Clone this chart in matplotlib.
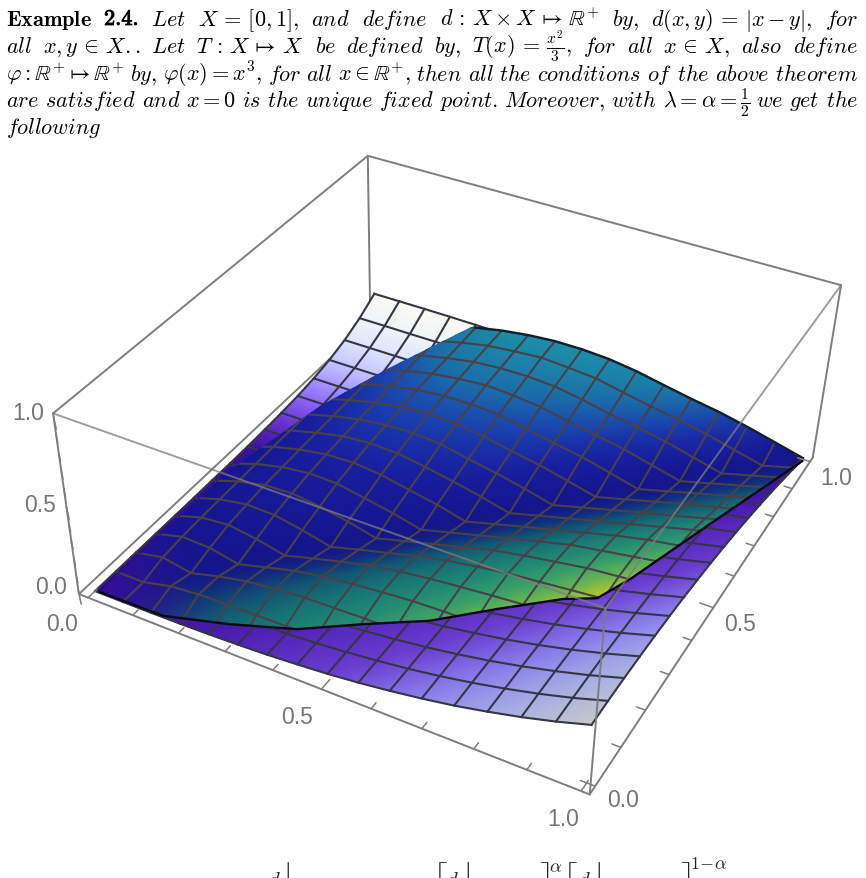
#!/usr/bin/env python3
import numpy as np
import matplotlib
matplotlib.use('Agg')
import matplotlib.pyplot as plt
from matplotlib.colors import to_rgb
from matplotlib.patheffects import withStroke
from matplotlib.path import Path

plt.rcParams['mathtext.fontset'] = 'cm'

# heights in thousandths, one row per y mesh line
upper_rows = [
    [0, 0, 0, 0, 0, 0, 0, 0, 0, 0, 0, 0, 0, 0, 0, 0, 0],
    [0, 0, 39, 55, 60, 62, 64, 65, 67, 68, 68, 68, 68, 68, 68, 68, 68],
    [0, 32, 1, 44, 78, 97, 111, 115, 120, 122, 124, 125, 127, 129, 131, 132, 134],
    [0, 43, 37, 2, 45, 88, 117, 137, 153, 166, 171, 175, 180, 182, 184, 185, 187],
    [0, 48, 64, 39, 2, 46, 89, 129, 156, 178, 194, 209, 222, 226, 231, 235, 240],
    [0, 50, 77, 73, 42, 2, 47, 89, 133, 168, 195, 219, 234, 250, 265, 277, 282],
    [0, 52, 87, 95, 75, 44, 3, 47, 90, 133, 177, 207, 234, 260, 275, 290, 306],
    [0, 54, 91, 111, 106, 76, 45, 4, 48, 91, 134, 177, 219, 246, 273, 300, 316],
    [0, 57, 95, 121, 127, 111, 78, 46, 4, 48, 92, 134, 178, 221, 258, 285, 312],
    [0, 57, 97, 130, 144, 138, 112, 81, 46, 5, 49, 92, 135, 178, 222, 265, 297],
    [0, 57, 100, 134, 154, 159, 147, 113, 83, 47, 5, 49, 93, 136, 178, 222, 266],
    [0, 57, 102, 138, 165, 177, 170, 148, 115, 86, 47, 6, 50, 94, 137, 179, 222],
    [0, 57, 104, 143, 174, 188, 191, 181, 149, 117, 89, 48, 6, 50, 95, 137, 180],
    [0, 57, 106, 145, 178, 198, 211, 202, 184, 150, 120, 90, 48, 7, 51, 95, 138],
    [0, 57, 109, 147, 182, 209, 221, 223, 213, 185, 151, 122, 91, 49, 7, 51, 95],
    [0, 57, 111, 149, 186, 217, 232, 244, 233, 220, 186, 154, 125, 91, 49, 8, 52],
    [0, 57, 113, 152, 190, 221, 242, 254, 254, 244, 221, 188, 156, 128, 92, 50, 8],
]
lower_rows = [
    [0, 0, 1, 3, 7, 13, 21, 33, 47, 66, 89, 116, 147, 185, 227, 275, 330],
    [0, 0, 1, 3, 7, 13, 21, 32, 47, 66, 88, 115, 147, 184, 226, 274, 329],
    [0, 0, 0, 3, 7, 13, 21, 32, 47, 65, 87, 114, 145, 182, 224, 271, 325],
    [0, 0, 0, 0, 7, 12, 20, 31, 46, 64, 85, 112, 142, 178, 219, 266, 318],
    [0, 0, 0, 0, 0, 12, 20, 31, 44, 62, 83, 108, 138, 173, 213, 258, 309],
    [0, 0, 0, 0, 0, 0, 19, 29, 43, 59, 80, 104, 133, 166, 205, 249, 298],
    [1, 1, 1, 1, 1, 1, 1, 28, 41, 57, 76, 99, 127, 159, 195, 237, 284],
    [1, 1, 1, 1, 1, 1, 1, 1, 38, 53, 72, 93, 119, 149, 184, 223, 267],
    [3, 3, 3, 3, 3, 3, 3, 3, 3, 49, 66, 87, 111, 138, 170, 207, 248],
    [7, 7, 7, 7, 7, 6, 6, 6, 6, 5, 61, 79, 101, 126, 155, 188, 226],
    [13, 13, 12, 12, 12, 12, 12, 11, 11, 10, 9, 70, 90, 112, 138, 168, 201],
    [22, 22, 22, 22, 22, 21, 21, 20, 19, 18, 17, 15, 78, 97, 120, 145, 174],
    [37, 37, 37, 37, 37, 36, 35, 34, 33, 31, 28, 25, 22, 81, 99, 121, 144],
    [60, 60, 60, 60, 59, 59, 57, 55, 53, 50, 46, 41, 35, 28, 77, 94, 112],
    [94, 94, 94, 94, 93, 91, 89, 86, 82, 77, 71, 64, 54, 44, 31, 65, 77],
    [143, 143, 142, 142, 140, 138, 135, 131, 125, 117, 108, 96, 82, 66, 47, 25, 40],
    [210, 210, 210, 209, 207, 204, 199, 192, 184, 173, 159, 142, 121, 97, 69, 37, 0],
]

# where the two surfaces cross: low side from the origin, then the far side
crease_low = [[.029, .022, 0], [.165, .022, .005], [.281, .057, .012], [.393, .097, .025],
              [.492, .153, .05], [.595, .204, .08], [.692, .266, .13], [.793, .315, .2],
              [.85, .328, .24], [.872, .417, .2], [.92, .681, .09], [.986, .979, 0]]
crease_far = [[.265, 1.011, .19], [.243, .983, .17], [.192, .905, .12], [.143, .828, .07],
              [.077, .676, .02], [.03, .417, 0]]

tick_labels = ['0.0', '0.5', '1.0']
tick_values = [0, .5, 1]

# camera: unit box corners as they land on the page
box_xyz = np.array([[0, 0, 0], [1, 0, 0], [1, 1, 0], [0, 1, 0],
                    [0, 0, 1], [1, 0, 1], [1, 1, 1], [0, 1, 1]], float)
box_px = np.array([[80, 598], [592, 797], [808, 463], [372, 314],
                   [52, 415], [603, 603], [846, 285], [366, 162]], float)

# plot range sits a little inside the box
PAD0, PAD1 = .02, .985


def fit_camera(world, page):
    rows = []
    for (x, y, z), (u, v) in zip(world, page):
        rows.append([x, y, z, 1, 0, 0, 0, 0, -u*x, -u*y, -u*z, -u])
        rows.append([0, 0, 0, 0, x, y, z, 1, -v*x, -v*y, -v*z, -v])
    return np.linalg.svd(np.array(rows))[2][-1].reshape(3, 4)


cam = fit_camera(box_xyz, box_px)


def project(x, y, z):
    x, y, z = np.asarray(x, float), np.asarray(y, float), np.asarray(z, float)
    w = cam[2, 0]*x + cam[2, 1]*y + cam[2, 2]*z + cam[2, 3]
    u = (cam[0, 0]*x + cam[0, 1]*y + cam[0, 2]*z + cam[0, 3]) / w
    v = (cam[1, 0]*x + cam[1, 1]*y + cam[1, 2]*z + cam[1, 3]) / w
    return u, v


z_upper = np.array(upper_rows) / 1000
z_lower = np.array(lower_rows) / 1000
grid = np.linspace(0, 1, z_upper.shape[0])
X, Y = np.meshgrid(grid, grid)
BX, BY = PAD0 + (PAD1-PAD0)*X, PAD0 + (PAD1-PAD0)*Y
crease = np.array(crease_low)
crease_top = np.array(crease_far)


def ramp(s, stops, colors):
    rgb = np.array([to_rgb(c) for c in colors])
    return np.stack([np.interp(s, stops, rgb[:, i]) for i in range(3)], axis=-1)


def upper_colors():
    d = X - Y
    below = ramp(d, [0, .1, .2, .3, .42, .5, .56],
                 ['#14148c', '#12207f', '#105a70', '#187a78', '#2a9a70', '#70b850', '#c8d020'])
    s = (Y-X)*X**.8
    above = ramp(s, [0, .08, .14, .2, .28],
                 ['#14148c', '#181ea0', '#1a40b0', '#1a70a8', '#1c90a8'])
    out = np.where((d > 0)[..., None], below, above)
    # the low corner fades to violet
    fade = np.clip(1-(X+Y)/.25, 0, 1)[..., None]
    return out*(1-fade) + np.array(to_rgb('#3a109a'))*fade


def lower_colors():
    d = X - Y
    right = ramp(d, [0, .25, .5, .7, .85, 1],
                 ['#2a0a90', '#4a1cb0', '#6a3cd0', '#8f88ee', '#a8b4e2', '#c8c8c8'])
    left = ramp(Y, [0, .5, .6, .7, .8, .9, 1],
                ['#2a0a90', '#3a10a0', '#6a30d0', '#9070ff', '#c0c0ff', '#e6f2ff', '#fbfbf2'])
    return np.where((d > 0)[..., None], right, left)


def draw_mesh(ax, z, color, lw, clip=None, zorder=3):
    u, v = project(BX, BY, z)
    lines = []
    for i in range(len(grid)):
        lines += ax.plot(u[i], v[i], color=color, lw=lw, zorder=zorder)
        lines += ax.plot(u[:, i], v[:, i], color=color, lw=lw, zorder=zorder)
    if clip is not None:
        for line in lines:
            line.set_clip_path(clip, ax.transData)


def edge(ax, a, b, **kw):
    u, v = project(*zip(a, b))
    ax.plot(u, v, **{'color': '#7d7d7d', 'lw': 1.4, 'solid_capstyle': 'round', **kw})


def ticks(ax, start, stop, toward):
    start, stop, toward = map(np.array, (start, stop, toward))
    for k in range(11):
        p = start + (stop-start)*(PAD0 + (PAD1-PAD0)*k/10)
        size = .026 if k % 5 == 0 else .016
        edge(ax, p, p+toward*size, zorder=6, lw=1.1)


fig = plt.figure(figsize=(8.66, 8.79), dpi=100)
ax = fig.add_axes([0, 0, 1, 1])
ax.set_xlim(0, 866)
ax.set_ylim(879, 0)
ax.axis('off')

# box edges behind the surfaces
edge(ax, (0, 0, 1), (0, 1, 1), zorder=1)
edge(ax, (0, 1, 1), (1, 1, 1), zorder=1)
edge(ax, (0, 1, 1), (0, 1, 0), zorder=1)
edge(ax, (0, 0, 0), (0, 1, 0), zorder=1)

u, v = project(BX, BY, z_lower)
ax.pcolormesh(u, v, lower_colors(), shading='gouraud', zorder=2)
draw_mesh(ax, z_lower, '#353545', 1.5)

# upper surface shows only inside its crease with the lower one
u, v = project(BX, BY, z_upper)
cu, cv = project(*crease.T)
tu, tv = project(*crease_top.T)
first = np.searchsorted(grid, .25)
outline = np.vstack([np.c_[cu, cv], np.c_[u[-1, first:][::-1], v[-1, first:][::-1]],
                     np.c_[tu, tv], [[cu[0], cv[0]]]])
clip = Path(outline)
mesh = ax.pcolormesh(u, v, upper_colors(), shading='gouraud', zorder=4)
mesh.set_clip_path(clip, ax.transData)
draw_mesh(ax, z_upper, '#4a4048', 1.5, clip=clip, zorder=5)
ax.plot(cu, cv, color='#0a0a14', lw=1.7, zorder=5)
ax.plot(u[-1, first:], v[-1, first:], color='#10202c', lw=1.7, zorder=5)

# box edges in front
edge(ax, (0, 0, 1), (1, 0, 1), zorder=6, alpha=.75)
edge(ax, (1, 0, 1), (1, 1, 1), zorder=6, alpha=.75)
edge(ax, (1, 0, 1), (1, 0, 0), zorder=6)
edge(ax, (1, 1, 1), (1, 1, 0), zorder=6)
edge(ax, (0, 0, 0), (1, 0, 0), zorder=6)
edge(ax, (1, 0, 0), (1, 1, 0), zorder=6)
edge(ax, (0, 0, 0), (0, 0, 1), zorder=6)
ticks(ax, (0, 0, 0), (1, 0, 0), (0, 1, 0))
ticks(ax, (1, 0, 0), (1, 1, 0), (-1, 0, 0))
ticks(ax, (0, 0, 0), (0, 0, 1), (1, -1, 0))

label_style = dict(family='Liberation Sans', fontsize=16.5, color='#757575',
                   ha='center', va='center')
for lab, t, off in zip(tick_labels, tick_values, [(-17, 29), (-23, 28), (-27, 24)]):
    pu, pv = project(t, 0, 0)
    ax.text(pu+off[0], pv+off[1], lab, **label_style)
for lab, t, off in zip(tick_labels, tick_values, [(33, 5), (27, 15), (23, 20)]):
    pu, pv = project(1, t, 0)
    ax.text(pu+off[0], pv+off[1], lab, **label_style)
for lab, t, off in zip(tick_labels, tick_values, [(-28, -8), (-26, -3), (-25, -1)]):
    pu, pv = project(0, 0, t)
    ax.text(pu+off[0], pv+off[1], lab, **label_style)

# justified paragraph, one fragment per word
text_lines = [
    [r'$\mathbf{Example}$', r'$\mathbf{2.4.}$', r'$\mathit{Let}$', r'$X\,=\,[0,1],$', r'$\mathit{and}$',
     r'$\mathit{define}$', r'$d\,:\,X\times X\,\mapsto\,\mathbb{R}^{+}$', r'$\mathit{by},$',
     r'$d(x,y)\,=\,|x-y|,$', r'$\mathit{for}$'],
    [r'$\mathit{all}$', r'$x,y\,\in\,X..$', r'$\mathit{Let}$', r'$T\,:\,X\,\mapsto\,X$',
     r'$\mathit{be}$', r'$\mathit{defined}$', r'$\mathit{by},$',
     r'$T(x)\,=\,\frac{x^2}{3},$', r'$\mathit{for}$', r'$\mathit{all}$',
     r'$x\,\in\,X,$', r'$\mathit{also}$', r'$\mathit{define}$'],
    [r'$\varphi:\mathbb{R}^{+}\mapsto\mathbb{R}^{+}$', r'$\mathit{by},$',
     r'$\varphi(x)=x^3,$', r'$\mathit{for}$', r'$\mathit{all}$', r'$x\in\mathbb{R}^{+},$',
     r'$\mathit{then}$', r'$\mathit{all}$', r'$\mathit{the}$', r'$\mathit{conditions}$',
     r'$\mathit{of}$', r'$\mathit{the}$', r'$\mathit{above}$', r'$\mathit{theorem}$'],
    [r'$\mathit{are}$', r'$\mathit{satisfied}$', r'$\mathit{and}$', r'$x=0$', r'$\mathit{is}$',
     r'$\mathit{the}$', r'$\mathit{unique}$', r'$\mathit{fixed}$', r'$\mathit{point.}$',
     r'$\mathit{Moreover},$', r'$\mathit{with}$', r'$\lambda=\alpha=\frac{1}{2}$',
     r'$\mathit{we}$', r'$\mathit{get}$', r'$\mathit{the}$'],
    [r'$\mathit{following}$'],
]
line_y = [26, 53, 81, 107, 134]
renderer = fig.canvas.get_renderer()
for words, base in zip(text_lines, line_y):
    items = [ax.text(0, base, w, fontsize=16, color='black', va='baseline') for w in words]
    widths = [t.get_window_extent(renderer).width for t in items]
    gap = (852-sum(widths))/(len(items)-1) if len(items) > 1 else 0
    pos = 6
    for t, w in zip(items, widths):
        t.set_x(pos)
        pos += w + gap
    if words[0].startswith(r'$\mathbf'):
        items[1].set_path_effects([withStroke(linewidth=.7, foreground='black')])

# top of the next display line, cut by the page edge
eq_parts = [(268, 870, r'$d$', 15), (283, 860, r'$|$', 22), (433, 860, r'$\lceil$', 22),
            (446, 870, r'$d$', 15), (463, 860, r'$|$', 22), (539, 860, r'$\rceil$', 22),
            (549, 858, r'$\alpha$', 13), (563, 860, r'$\lceil$', 22), (578, 870, r'$d$', 15),
            (594, 860, r'$|$', 22), (680, 860, r'$\rceil$', 22), (690, 855, r'$1\!-\!\alpha$', 13)]
for px, py, s, size in eq_parts:
    ax.text(px, py, s, fontsize=size, color='#222222', va='top', clip_on=True)

fig.savefig('out.png', dpi=100)
